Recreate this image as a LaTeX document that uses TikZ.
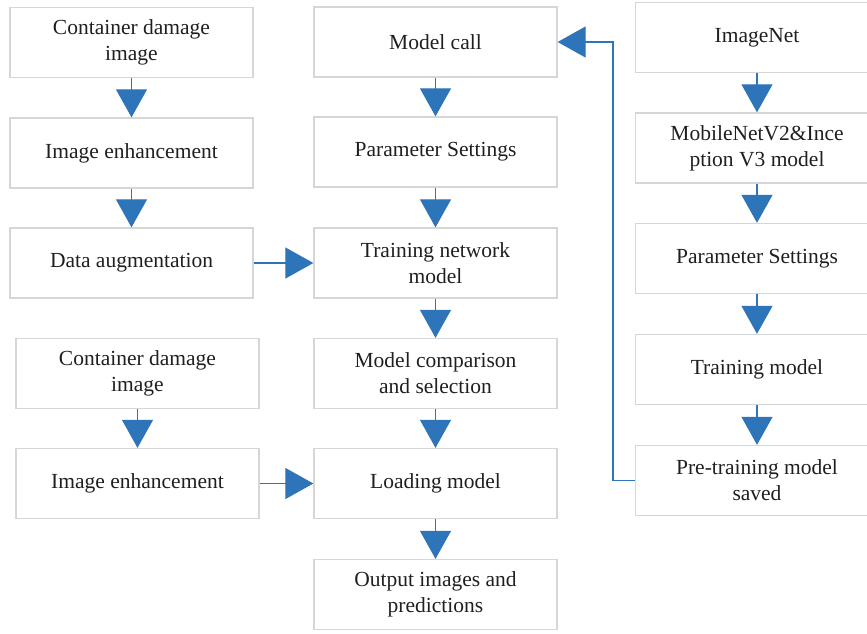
\documentclass[tikz,border=0pt]{standalone}
\usepackage{fontspec}
\setmainfont{Liberation Serif}
\usetikzlibrary{arrows.meta}
\definecolor{flowblue}{RGB}{46,116,184}
\definecolor{boxgray}{RGB}{214,214,214}

\begin{document}
\begin{tikzpicture}[x=1pt,y=-1pt,
	box/.style={draw=boxgray,line width=1.3pt,minimum width=243pt,minimum height=70pt,
		align=center,text=black!88,font=\fontsize{21.5}{26}\selectfont},
	flow/.style={draw=flowblue,line width=1.1pt,-{Triangle[length=28pt,width=31pt]},color=flowblue}]
	\useasboundingbox (0,0) rectangle (867,633);

	%left column
	\node[box] (dmg)   at (131.5,42.5) {Container damage\\image};
	\node[box] (enh)   at (131.5,153)  {Image enhancement};
	\node[box] (aug)   at (131.5,263)  {Data augmentation};
	\node[box] (dmgb)  at (137.5,373.5) {Container damage\\image};
	\node[box] (enhb)  at (137.5,483.5) {Image enhancement};

	%middle column
	\node[box] (call)  at (435.5,42)   {Model call};
	\node[box] (param) at (435.5,152)  {Parameter Settings};
	\node[box] (train) at (435.5,263)  {Training network\\model};
	\node[box] (comp)  at (435.5,373.5) {Model comparison\\and selection};
	\node[box] (load)  at (435.5,483.5) {Loading model};
	\node[box] (out)   at (435.5,594.5) {Output images and\\predictions};

	%right column
	\node[box] (inet)   at (757,37.5)  {ImageNet};
	\node[box] (mobile) at (757,148)   {MobileNetV2\&Ince\\ption V3 model};
	\node[box] (paramb) at (757,258.5) {Parameter Settings};
	\node[box] (trainb) at (757,369.5) {Training model};
	\node[box] (saved)  at (757,480.5) {Pre-training model\\saved};
	\coordinate (turn) at (613,0);

	%arrows
	\draw[flow] (dmg) -- (enh);
	\draw[flow] (enh) -- (aug);
	\draw[flow] (dmgb) -- (enhb);
	\draw[flow] (aug) -- (train);
	\draw[flow] (enhb) -- (load);
	\draw[flow] (call) -- (param);
	\draw[flow] (param) -- (train);
	\draw[flow] (train) -- (comp);
	\draw[flow] (comp) -- (load);
	\draw[flow] (load) -- (out);
	\draw[flow] (inet) -- (mobile);
	\draw[flow] (mobile) -- (paramb);
	\draw[flow] (paramb) -- (trainb);
	\draw[flow] (trainb) -- (saved);
	\draw[flow] (saved.west) -- (turn |- saved.west) |- (call.east);	%back to model call
\end{tikzpicture}
\end{document}
